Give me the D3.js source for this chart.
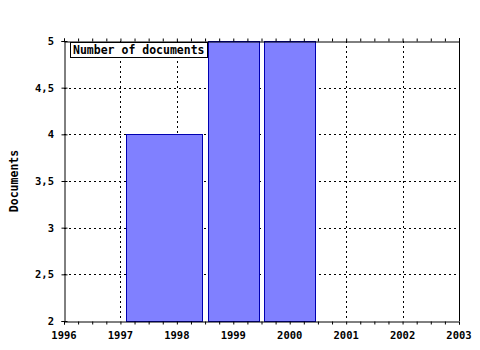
<!DOCTYPE html>
<html>
<head>
<meta charset="utf-8">
<script src="https://cdn.jsdelivr.net/npm/d3@7"></script>
<style>
  body { margin: 0; background: #fff; }
  svg text { font-family: "DejaVu Sans Mono", monospace; font-weight: bold; }
</style>
</head>
<body>
<svg id="chart" width="480" height="350"></svg>
<script>
'use strict';

// values
const barStarts = [1997.1, 1998.55, 1999.55];
const barEnds = [1998.45, 1999.45, 2000.45];
const docCounts = [4, 5, 5];
const xTicks = [1996, 1997, 1998, 1999, 2000, 2001, 2002, 2003];
const yTicks = [2, 2.5, 3, 3.5, 4, 4.5, 5];
const seriesName = "Number of documents";
const yTitle = "Documents";

(function() {
    const m = { left: 64, right: 459, top: 41, bottom: 321 };
    const svg = d3.select("#chart");

    const x = d3.scaleLinear().domain([1996, 2003]).range([m.left, m.right]);
    const y = d3.scaleLinear().domain([2, 5]).range([m.bottom, m.top]);

    const fmt = d => String(d).replace(".", ",");

    // grid
    const grid = svg.append("g")
        .attr("stroke", "#000")
        .attr("stroke-dasharray", "2,3")
        .attr("shape-rendering", "crispEdges");
    grid.selectAll("line.v")
        .data(xTicks.slice(1, -1))
        .enter().append("line")
        .attr("x1", d => Math.round(x(d)) + 0.5).attr("x2", d => Math.round(x(d)) + 0.5)
        .attr("y1", m.top).attr("y2", m.bottom);
    grid.selectAll("line.h")
        .data(yTicks.slice(1, -1))
        .enter().append("line")
        .attr("y1", d => Math.round(y(d)) + 0.5).attr("y2", d => Math.round(y(d)) + 0.5)
        .attr("x1", m.left).attr("x2", m.right);

    // bars
    svg.append("g").selectAll("rect")
        .data(docCounts)
        .enter().append("rect")
        .attr("x", (d, i) => Math.round(x(barStarts[i])) + 0.5)
        .attr("width", (d, i) => Math.round(x(barEnds[i])) - Math.round(x(barStarts[i])))
        .attr("y", d => Math.round(y(d)) + 0.5)
        .attr("height", d => Math.round(y(2)) - Math.round(y(d)))
        .attr("fill", "#8080ff")
        .attr("stroke", "#0000b0")
        .attr("shape-rendering", "crispEdges");

    // axes
    const minor = d3.range(1996, 2003.01, 0.25);
    const xAxis = d3.axisBottom(x).tickValues(minor).tickSize(3).tickFormat("");
    svg.append("g")
        .attr("transform", "translate(0," + (m.bottom + 0.5) + ")")
        .call(xAxis);
    const xTop = d3.axisTop(x).tickValues(minor).tickSize(3).tickFormat("");
    svg.append("g")
        .attr("transform", "translate(0," + (m.top + 0.5) + ")")
        .call(xTop);

    svg.append("g").selectAll("text")
        .data(xTicks)
        .enter().append("text")
        .attr("x", d => x(d))
        .attr("y", m.bottom + 18)
        .attr("text-anchor", "middle")
        .attr("font-size", "10.5px")
        .text(d => d);

    const yAxis = d3.axisLeft(y).tickValues(yTicks).tickSize(3).tickFormat("");
    const yg = svg.append("g")
        .attr("transform", "translate(" + (m.left + 0.5) + ",0)")
        .call(yAxis);
    yg.selectAll(".tick line").attr("x2", 3).attr("x1", -3);

    svg.append("line")
        .attr("x1", m.right + 0.5).attr("x2", m.right + 0.5)
        .attr("y1", m.top - 3).attr("y2", m.bottom)
        .attr("stroke", "#000");

    svg.selectAll("g .domain").attr("stroke", "#000");
    svg.selectAll("g .tick line").attr("stroke", "#000");

    svg.append("g").selectAll("text")
        .data(yTicks)
        .enter().append("text")
        .attr("x", m.left - 10)
        .attr("y", d => y(d) + 4)
        .attr("text-anchor", "end")
        .attr("font-size", "10.5px")
        .text(fmt);

    svg.append("text")
        .attr("transform", "translate(18," + ((m.top + m.bottom) / 2) + ") rotate(-90)")
        .attr("text-anchor", "middle")
        .attr("font-size", "11.5px")
        .text(yTitle);

    // legend
    const lg = svg.append("g");
    lg.append("rect")
        .attr("x", 70.5).attr("y", 42.5)
        .attr("width", 137).attr("height", 15)
        .attr("fill", "#fff").attr("stroke", "#000");
    lg.append("text")
        .attr("x", 73).attr("y", 54)
        .attr("font-size", "11.5px")
        .text(seriesName);
})();
</script>
</body>
</html>
